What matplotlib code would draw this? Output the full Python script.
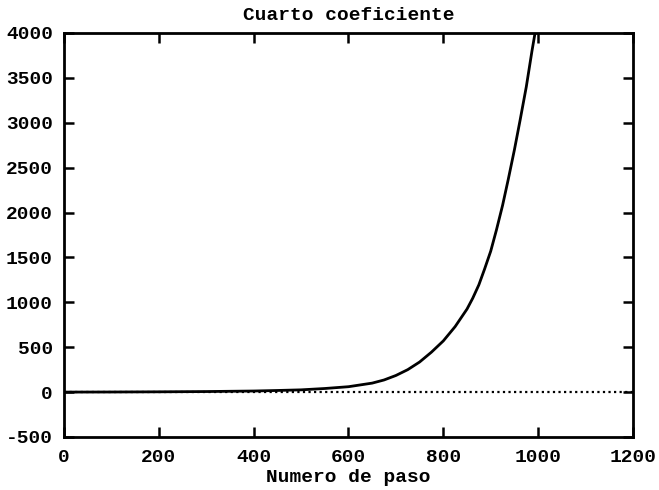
import numpy as np
import matplotlib.pyplot as plt

plt.rcParams['axes.unicode_minus'] = False

# values
paso = [0, 100, 200, 300, 400, 450, 500, 550, 600, 650, 675, 700, 725, 750,
        775, 800, 825, 850, 862, 875, 887, 900, 912, 925, 937, 950, 962,
        975, 987, 1000]
coef = [0, 1, 3, 6, 12, 18, 25, 40, 60, 100, 135, 185, 250, 335,
        445, 570, 730, 925, 1045, 1195, 1370, 1570, 1805, 2080, 2370, 2700,
        3030, 3400, 3800, 4200]

xticks = [0, 200, 400, 600, 800, 1000, 1200]
yticks = [-500, 0, 500, 1000, 1500, 2000, 2500, 3000, 3500, 4000]

font = 'Liberation Mono'

fig = plt.figure(figsize=(6.59, 4.90), dpi=100)
ax = fig.add_axes([0.0971, 0.1082, 0.8634, 0.8245])

# zero axis, dotted like gnuplot
ax.axhline(0, color='black', linestyle=(0, (1, 1.5)), linewidth=1.6)
ax.plot(paso, coef, color='black', linewidth=2.0)

ax.set_xlim(0, 1200)
ax.set_ylim(-500, 4000)
ax.set_xticks(xticks)
ax.set_yticks(yticks)

for s in ax.spines.values():
    s.set_linewidth(2.0)

ax.tick_params(direction='in', length=7, width=1.8, top=True, right=True,
               labelsize=14)
ax.tick_params(axis='x', pad=9)
ax.tick_params(axis='y', pad=8)
for lab in ax.get_xticklabels() + ax.get_yticklabels():
    lab.set_fontfamily(font)
    lab.set_fontweight('bold')

ax.set_title('Cuarto coeficiente', fontfamily=font, fontweight='bold',
             fontsize=14, pad=9)
ax.set_xlabel('Numero de paso', fontfamily=font, fontweight='bold',
              fontsize=14, labelpad=2)

fig.savefig('out.png', dpi=100)
